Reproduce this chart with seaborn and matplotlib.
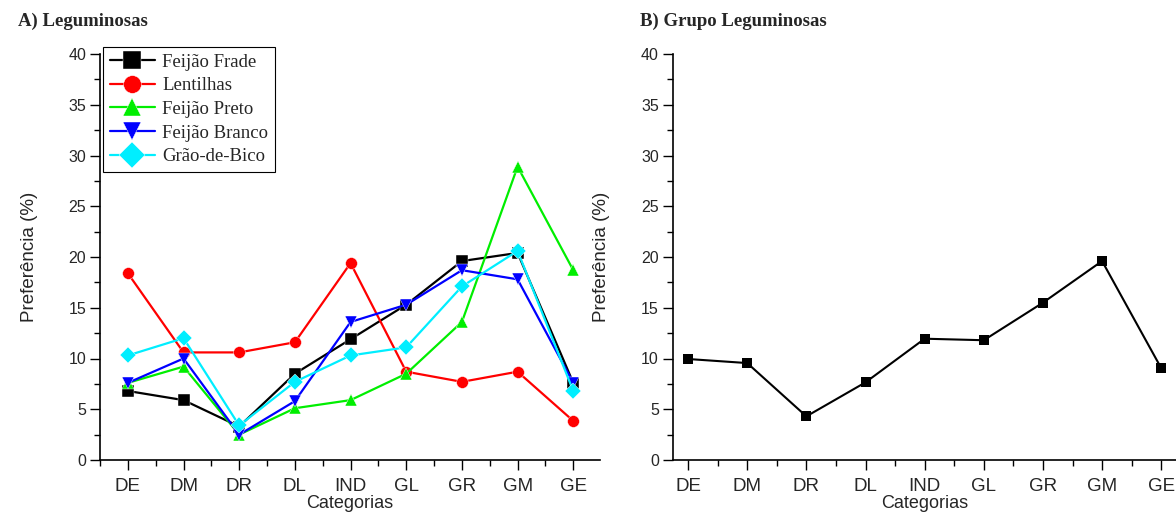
import matplotlib
matplotlib.use("Agg")
import matplotlib.pyplot as plt
import seaborn as sns
import pandas as pd
from matplotlib.ticker import MultipleLocator

categories = ["DE", "DM", "DR", "DL", "IND", "GL", "GR", "GM", "GE"]
feijao_frade = [6.8, 5.9, 3.3, 8.5, 11.9, 15.3, 19.6, 20.4, 7.6]
lentilhas = [18.4, 10.6, 10.6, 11.6, 19.4, 8.7, 7.7, 8.7, 3.85]
feijao_preto = [7.6, 9.2, 2.5, 5.1, 5.9, 8.5, 13.6, 28.9, 18.7]
feijao_branco = [7.6, 10.0, 2.5, 5.8, 13.6, 15.3, 18.7, 17.8, 7.6]
grao_de_bico = [10.3, 12.0, 3.4, 7.7, 10.3, 11.1, 17.1, 20.6, 6.8]
grupo = [9.95, 9.55, 4.3, 7.65, 11.95, 11.8, 15.5, 19.6, 9.05]

series_names = ["Feijão Frade", "Lentilhas", "Feijão Preto", "Feijão Branco", "Grão-de-Bico"]
series_vals = [feijao_frade, lentilhas, feijao_preto, feijao_branco, grao_de_bico]
colors = ["#000000", "#ff0000", "#00ee00", "#0000ff", "#00eeff"]
markers = ["s", "o", "^", "v", "D"]

sns.set_theme(style="white")
plt.rcParams["font.family"] = ["Liberation Sans", "DejaVu Sans"]

rows = []
for name, vals in zip(series_names, series_vals):
    for c, v in zip(categories, vals):
        rows.append({"Categoria": c, "Valor": v, "Serie": name})
df = pd.DataFrame(rows)
df_b = pd.DataFrame({"Categoria": categories, "Valor": grupo})

fig = plt.figure(figsize=(11.76, 5.16), dpi=100)
axA = fig.add_axes([100/1176, 1-460/516, 500/1176, 406/516])
axB = fig.add_axes([672.7/1176, 1-460/516, (1176-672.7)/1176, 406/516])

sns.lineplot(data=df, x="Categoria", y="Valor", hue="Serie", style="Serie",
             hue_order=series_names, style_order=series_names,
             palette=dict(zip(series_names, colors)),
             markers=dict(zip(series_names, markers)), dashes=False,
             markersize=8.5, linewidth=1.6, markeredgewidth=0.3, sort=False,
             ax=axA)
sns.lineplot(data=df_b, x="Categoria", y="Valor", color="black", marker="s",
             markersize=6.5, linewidth=1.5, markeredgewidth=0, sort=False, ax=axB)

for ax, xl in ((axA, (-0.5, 8.48)), (axB, (-0.26, 8.25))):
    ax.set_xlim(*xl)
    ax.set_ylim(0, 40)
    ax.yaxis.set_major_locator(MultipleLocator(5))
    ax.yaxis.set_minor_locator(MultipleLocator(2.5))
    ax.set_xticks(range(len(categories)))
    ax.set_xticklabels(categories)
    ax.xaxis.set_minor_locator(MultipleLocator(0.5))
    for s in ("top", "right"):
        ax.spines[s].set_visible(False)
    for s in ("left", "bottom"):
        ax.spines[s].set_color("black")
        ax.spines[s].set_linewidth(1.2)
    ax.tick_params(axis="both", which="major", direction="out", length=7, width=1,
                   color="black", left=True, bottom=True)
    ax.tick_params(axis="both", which="minor", direction="out", length=4, width=1,
                   color="black", left=True, bottom=True)
    ax.tick_params(axis="x", labelsize=13.5, pad=6)
    ax.tick_params(axis="y", labelsize=11.5, pad=3)
    ax.set_xlabel("Categorias", fontsize=13, labelpad=0)
    ax.set_ylabel("Preferência (%)", fontsize=13.5, labelpad=22)
    ax.grid(False)
    ax.set_facecolor("white")

handles, labels = axA.get_legend_handles_labels()
leg = axA.legend(handles, labels, loc="upper left",
                 bbox_to_anchor=(103/1176, 1-47/516), bbox_transform=fig.transFigure,
                 markerscale=1.5, frameon=True, fancybox=False, framealpha=1,
                 edgecolor="black", borderpad=0.35, labelspacing=0.35,
                 handlelength=2.4, handletextpad=0.4, borderaxespad=0,
                 prop={"family": "Liberation Serif", "size": 13.5})
leg.get_frame().set_linewidth(0.8)

fig.text(18/1176, 1-21/516, "A) Leguminosas", fontsize=13.5, fontweight="bold",
         family="Liberation Serif", va="center", ha="left")
fig.text(640/1176, 1-21/516, "B) Grupo Leguminosas", fontsize=13.5, fontweight="bold",
         family="Liberation Serif", va="center", ha="left")

fig.savefig("out.png", dpi=100, facecolor="white")
